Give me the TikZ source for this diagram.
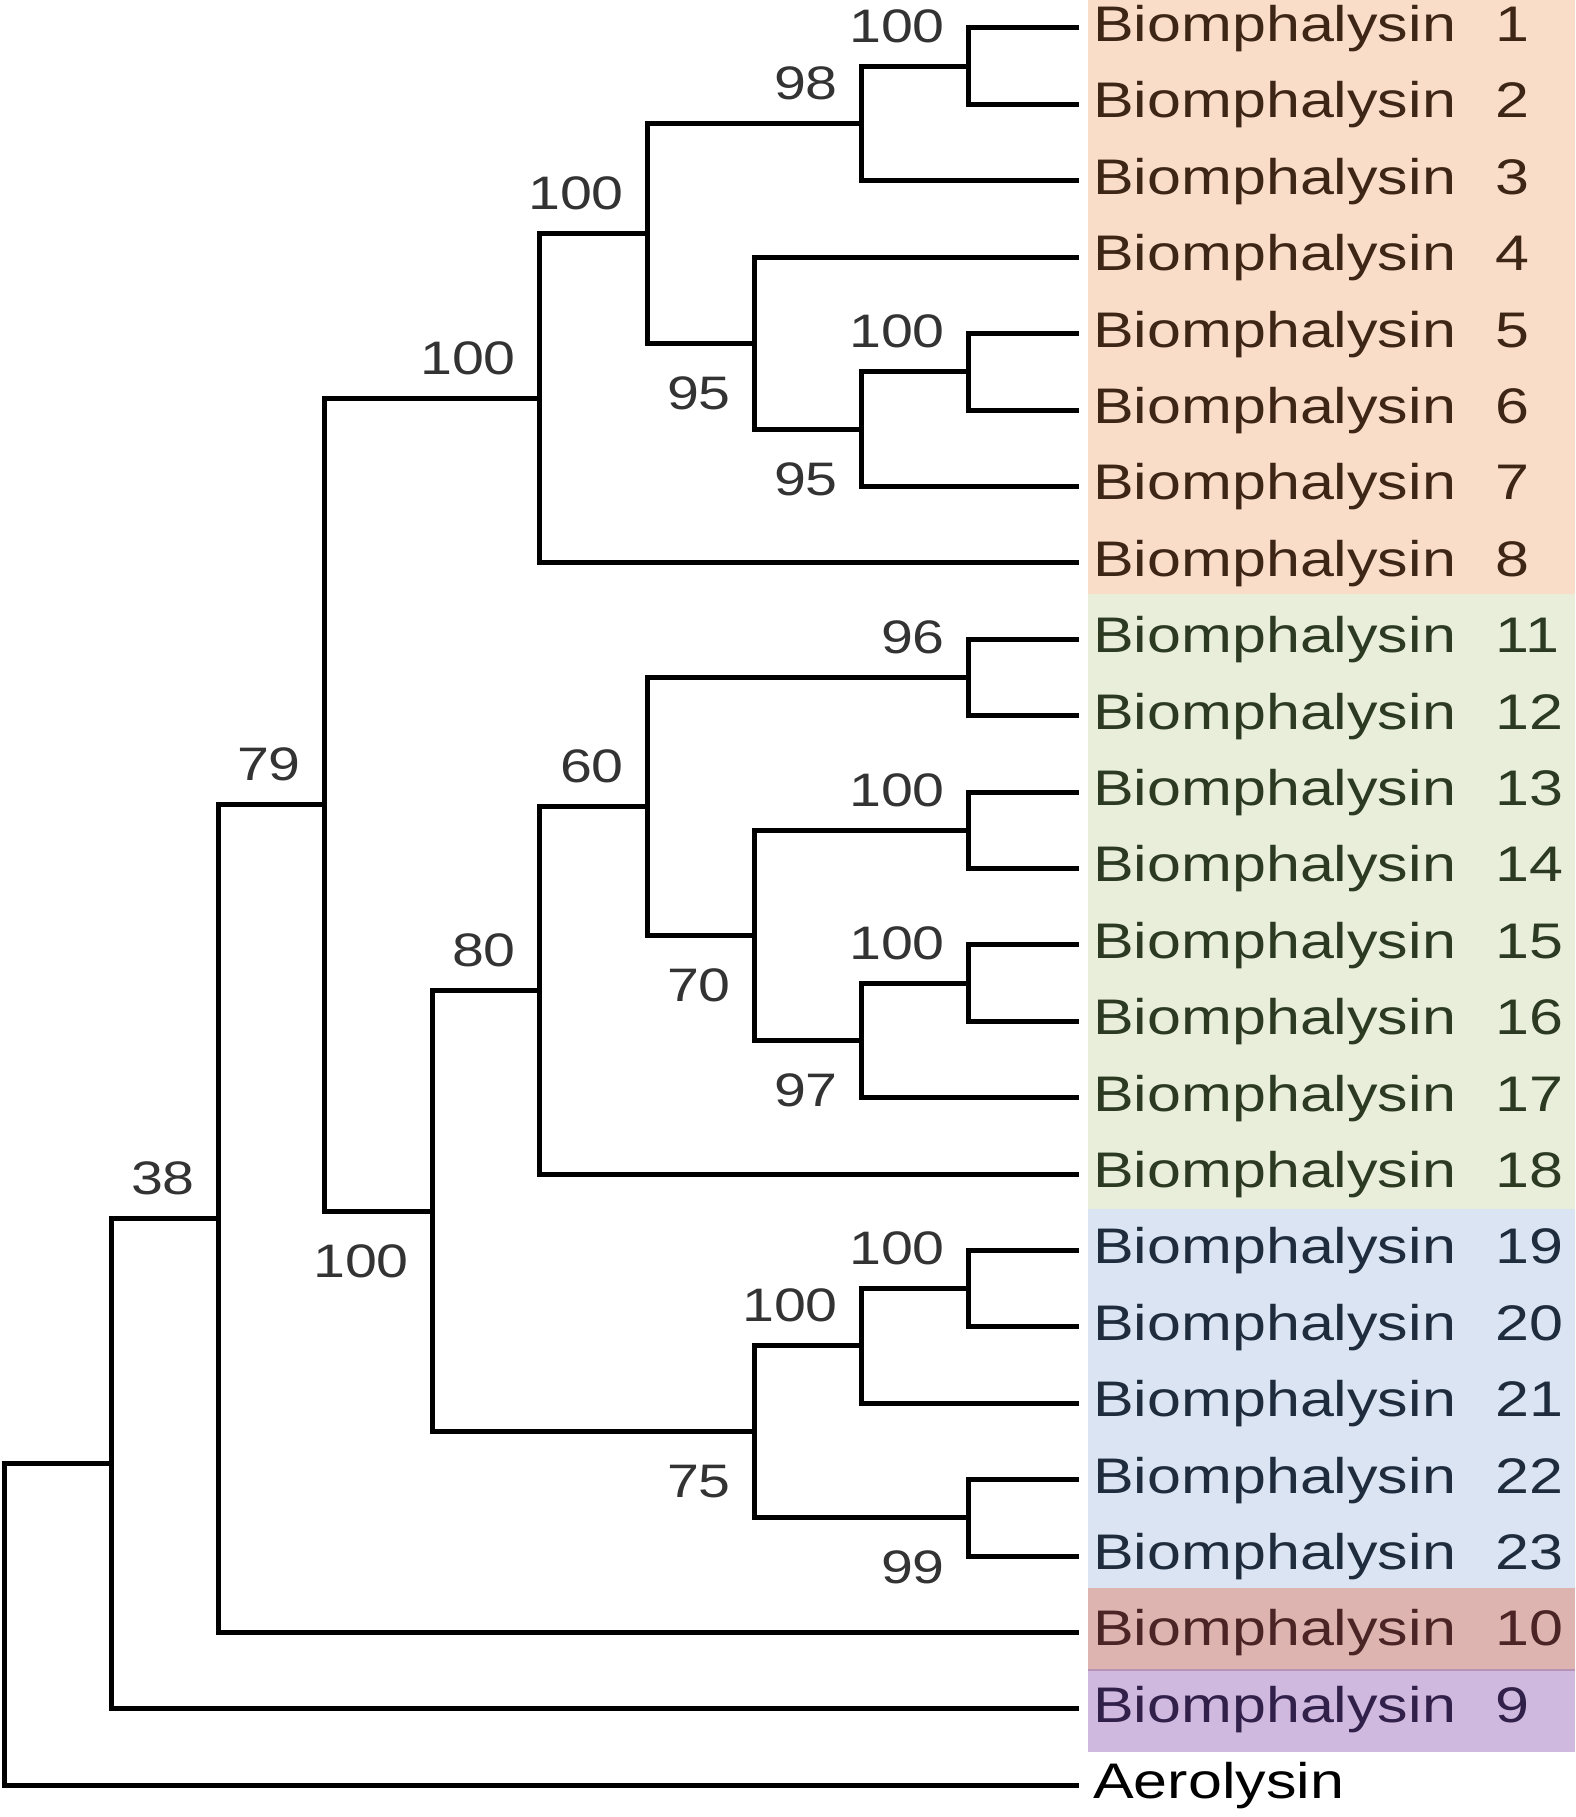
\documentclass[tikz,border=0pt]{standalone}
\usepackage{fontspec}
\setmainfont{Liberation Sans}[FakeStretch=1.22]
\usetikzlibrary{calc}
\definecolor{orangebg}{HTML}{F9DDC9}
\definecolor{greenbg}{HTML}{E8EEDA}
\definecolor{bluebg}{HTML}{DAE4F2}
\definecolor{redbg}{HTML}{DDB4AF}
\definecolor{purplebg}{HTML}{D0B9DE}
\definecolor{purpleline}{HTML}{B893B8}
\definecolor{otext}{HTML}{3E2616}
\definecolor{gtext}{HTML}{2C3A22}
\definecolor{btext}{HTML}{1F2C3D}
\definecolor{rtext}{HTML}{4B2525}
\definecolor{ptext}{HTML}{30204A}
\definecolor{numgray}{HTML}{333333}
\begin{document}
\begin{tikzpicture}[x=1pt,y=-1pt,
  br/.style={line width=5pt,line join=miter,line cap=butt,draw=black},
  leaflab/.style={anchor=base west,inner sep=0pt,font=\fontsize{50}{60}\selectfont},
  supbase/.style={inner sep=0pt,text=numgray,anchor=base east,font=\fontsize{47}{56}\selectfont},
  supA/.style={supbase},
  supB/.style={supbase}]
\useasboundingbox (0,0) rectangle (1575,1817);
\fill[white] (0,0) rectangle (1575,1817);
% coloured bands
\fill[orangebg] (1088,0) rectangle (1575,594);
\fill[greenbg] (1088,594) rectangle (1575,1209);
\fill[bluebg] (1088,1209) rectangle (1575,1588);
\fill[redbg] (1088,1588) rectangle (1575,1670);
\fill[purplebg] (1088,1670) rectangle (1575,1752);
\draw[purpleline,line width=1.5pt] (1088,1670) -- (1575,1670);
% leaf tips
\coordinate (l1) at (1079,28.0);
\coordinate (l2) at (1079,104.4);
\coordinate (l3) at (1079,180.8);
\coordinate (l4) at (1079,257.2);
\coordinate (l5) at (1079,333.6);
\coordinate (l6) at (1079,410.0);
\coordinate (l7) at (1079,486.4);
\coordinate (l8) at (1079,562.8);
\coordinate (l9) at (1079,639.2);
\coordinate (l10) at (1079,715.6);
\coordinate (l11) at (1079,792.0);
\coordinate (l12) at (1079,868.4);
\coordinate (l13) at (1079,944.8);
\coordinate (l14) at (1079,1021.2);
\coordinate (l15) at (1079,1097.6);
\coordinate (l16) at (1079,1174.0);
\coordinate (l17) at (1079,1250.4);
\coordinate (l18) at (1079,1326.8);
\coordinate (l19) at (1079,1403.2);
\coordinate (l20) at (1079,1479.6);
\coordinate (l21) at (1079,1556.0);
\coordinate (l22) at (1079,1632.4);
\coordinate (l23) at (1079,1708.8);
\coordinate (l24) at (1079,1785.2);
% internal nodes
\coordinate (n12) at (968,66.2);
\coordinate (n98) at (861,123.5);
\coordinate (n56) at (968,371.8);
\coordinate (n95b) at (861,429.1);
\coordinate (n95a) at (754,343.15);
\coordinate (n100a) at (647,233.33);
\coordinate (n100b) at (539,398.06);
\coordinate (g1112) at (968,677.4);
\coordinate (g1314) at (968,830.2);
\coordinate (g1516) at (968,983.0);
\coordinate (g97) at (861,1040.3);
\coordinate (g70) at (754,935.25);
\coordinate (g60) at (647,806.33);
\coordinate (g80) at (539,990.16);
\coordinate (b1920) at (968,1288.6);
\coordinate (b100) at (861,1345.9);
\coordinate (b99) at (968,1517.8);
\coordinate (b75) at (754,1431.85);
\coordinate (n100d) at (432,1211.0);
\coordinate (n79) at (324,804.53);
\coordinate (n38) at (218,1218.47);
\coordinate (nX) at (111,1463.63);
\coordinate (root) at (4,1624.4);
% branches
\draw[br] (l1) -| (n12) |- (l2);
\draw[br] (n12) -| (n98) |- (l3);
\draw[br] (l5) -| (n56) |- (l6);
\draw[br] (n56) -| (n95b) |- (l7);
\draw[br] (l4) -| (n95a) |- (n95b);
\draw[br] (n98) -| (n100a) |- (n95a);
\draw[br] (n100a) -| (n100b) |- (l8);
\draw[br] (l9) -| (g1112) |- (l10);
\draw[br] (l11) -| (g1314) |- (l12);
\draw[br] (l13) -| (g1516) |- (l14);
\draw[br] (g1516) -| (g97) |- (l15);
\draw[br] (g1314) -| (g70) |- (g97);
\draw[br] (g1112) -| (g60) |- (g70);
\draw[br] (g60) -| (g80) |- (l16);
\draw[br] (l17) -| (b1920) |- (l18);
\draw[br] (b1920) -| (b100) |- (l19);
\draw[br] (l20) -| (b99) |- (l21);
\draw[br] (b100) -| (b75) |- (b99);
\draw[br] (g80) -| (n100d) |- (b75);
\draw[br] (n100b) -| (n79) |- (n100d);
\draw[br] (n79) -| (n38) |- (l22);
\draw[br] (n38) -| (nX) |- (l23);
\draw[br] (nX) -| (root) |- (l24);
% support values (above = top child, below = bottom child)
\node[supA] (s1) at ($(n12)+(-23,-24)$) {100};
\node[supA] (s2) at ($(n98)+(-23,-24)$) {98};
\node[supA] (s3) at ($(n100a)+(-23,-24)$) {100};
\node[supB] (s4) at ($(n95a)+(-23,66)$) {95};
\node[supA] (s5) at ($(n56)+(-23,-24)$) {100};
\node[supB] (s6) at ($(n95b)+(-23,66)$) {95};
\node[supA] (s7) at ($(n100b)+(-23,-24)$) {100};
\node[supA] (s8) at ($(n79)+(-23,-24)$) {79};
\node[supA] (s9) at ($(n38)+(-23,-24)$) {38};
\node[supA] (s10) at ($(g1112)+(-23,-24)$) {96};
\node[supA] (s11) at ($(g60)+(-23,-24)$) {60};
\node[supA] (s12) at ($(g1314)+(-23,-24)$) {100};
\node[supB] (s13) at ($(g70)+(-23,66)$) {70};
\node[supA] (s14) at ($(g1516)+(-23,-24)$) {100};
\node[supB] (s15) at ($(g97)+(-23,66)$) {97};
\node[supA] (s16) at ($(g80)+(-23,-24)$) {80};
\node[supB] (s17) at ($(n100d)+(-23,66)$) {100};
\node[supA] (s18) at ($(b1920)+(-23,-24)$) {100};
\node[supA] (s19) at ($(b100)+(-23,-24)$) {100};
\node[supB] (s20) at ($(b75)+(-23,66)$) {75};
\node[supB] (s21) at ($(b99)+(-23,66)$) {99};
% leaf labels
\node[leaflab,text=otext] (t1) at ($(l1)+(14,13.5)$) {Biomphalysin\hspace{40pt}1};
\node[leaflab,text=otext] (t2) at ($(l2)+(14,13.5)$) {Biomphalysin\hspace{40pt}2};
\node[leaflab,text=otext] (t3) at ($(l3)+(14,13.5)$) {Biomphalysin\hspace{40pt}3};
\node[leaflab,text=otext] (t4) at ($(l4)+(14,13.5)$) {Biomphalysin\hspace{40pt}4};
\node[leaflab,text=otext] (t5) at ($(l5)+(14,13.5)$) {Biomphalysin\hspace{40pt}5};
\node[leaflab,text=otext] (t6) at ($(l6)+(14,13.5)$) {Biomphalysin\hspace{40pt}6};
\node[leaflab,text=otext] (t7) at ($(l7)+(14,13.5)$) {Biomphalysin\hspace{40pt}7};
\node[leaflab,text=otext] (t8) at ($(l8)+(14,13.5)$) {Biomphalysin\hspace{40pt}8};
\node[leaflab,text=gtext] (t9) at ($(l9)+(14,13.5)$) {Biomphalysin\hspace{40pt}11};
\node[leaflab,text=gtext] (t10) at ($(l10)+(14,13.5)$) {Biomphalysin\hspace{40pt}12};
\node[leaflab,text=gtext] (t11) at ($(l11)+(14,13.5)$) {Biomphalysin\hspace{40pt}13};
\node[leaflab,text=gtext] (t12) at ($(l12)+(14,13.5)$) {Biomphalysin\hspace{40pt}14};
\node[leaflab,text=gtext] (t13) at ($(l13)+(14,13.5)$) {Biomphalysin\hspace{40pt}15};
\node[leaflab,text=gtext] (t14) at ($(l14)+(14,13.5)$) {Biomphalysin\hspace{40pt}16};
\node[leaflab,text=gtext] (t15) at ($(l15)+(14,13.5)$) {Biomphalysin\hspace{40pt}17};
\node[leaflab,text=gtext] (t16) at ($(l16)+(14,13.5)$) {Biomphalysin\hspace{40pt}18};
\node[leaflab,text=btext] (t17) at ($(l17)+(14,13.5)$) {Biomphalysin\hspace{40pt}19};
\node[leaflab,text=btext] (t18) at ($(l18)+(14,13.5)$) {Biomphalysin\hspace{40pt}20};
\node[leaflab,text=btext] (t19) at ($(l19)+(14,13.5)$) {Biomphalysin\hspace{40pt}21};
\node[leaflab,text=btext] (t20) at ($(l20)+(14,13.5)$) {Biomphalysin\hspace{40pt}22};
\node[leaflab,text=btext] (t21) at ($(l21)+(14,13.5)$) {Biomphalysin\hspace{40pt}23};
\node[leaflab,text=rtext] (t22) at ($(l22)+(14,13.5)$) {Biomphalysin\hspace{40pt}10};
\node[leaflab,text=ptext] (t23) at ($(l23)+(14,13.5)$) {Biomphalysin\hspace{40pt}9};
\node[leaflab,text=black] (t24) at ($(l24)+(14,13.5)$) {Aerolysin};
\end{tikzpicture}
\end{document}
